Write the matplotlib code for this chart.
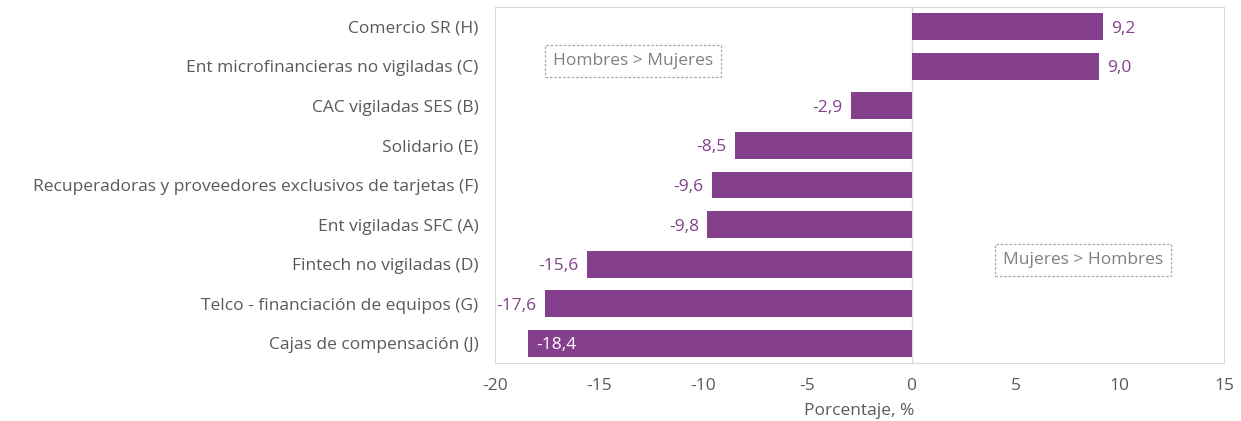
import matplotlib
matplotlib.use("Agg")
from matplotlib import pyplot as plt

# ----- datos ----- #
categorias = ['Comercio SR (H)',
              'Ent microfinancieras no vigiladas (C)',
              'CAC vigiladas SES (B)',
              'Solidario (E)',
              'Recuperadoras y proveedores exclusivos de tarjetas (F)',
              'Ent vigiladas SFC (A)',
              'Fintech no vigiladas (D)',
              'Telco - financiación de equipos (G)',
              'Cajas de compensación (J)']
valores = [9.2, 9.0, -2.9, -8.5, -9.6, -9.8, -15.6, -17.6, -18.4]
xticks = [-20, -15, -10, -5, 0, 5, 10, 15]

plt.rcParams['font.family'] = ['Open Sans', 'DejaVu Sans']
morado = '#843F8D'
gris = '#595959'
fs = 12.5

fig = plt.figure(figsize=(12.41, 4.21), dpi=100)
ax = fig.add_axes([0.3989, 0.1378, 0.5874, 0.8456])

pos = list(range(len(categorias)))[::-1]
ax.barh(pos, valores, height=0.68, color=morado, zorder=3)

# ----- etiquetas de valores ----- #
for p, v in zip(pos, valores):
    txt = f'{v:.1f}'.replace('.', ',')
    if v > 0:
        ax.text(v + 0.4, p, txt, va='center_baseline', ha='left', color=morado, fontsize=fs)
    elif v < -18:
        ax.text(v + 0.4, p, txt, va='center_baseline', ha='left', color='white', fontsize=fs)
    else:
        ax.text(v - 0.4, p, txt, va='center_baseline', ha='right', color=morado, fontsize=fs)

ax.axvline(0, color='#D9D9D9', linewidth=1, zorder=1)

ax.set_xlim(-20, 15)
ax.set_ylim(-0.5, len(categorias) - 0.5)
ax.set_xticks(xticks)
ax.set_xticklabels([str(t) for t in xticks])
ax.set_yticks(pos)
ax.set_yticklabels(categorias)
ax.tick_params(axis='both', length=0, colors=gris, labelsize=fs)
ax.tick_params(axis='x', pad=11)
ax.tick_params(axis='y', pad=12)
for s in ax.spines.values():
    s.set_color('#D9D9D9')
ax.set_xlabel('Porcentaje, %', color=gris, fontsize=fs, labelpad=6)

# ----- cajas de texto ----- #
caja = dict(boxstyle='square,pad=0.45', facecolor='white', edgecolor='#A6A6A6',
            linestyle=(0, (2, 1.5)), linewidth=0.9)
ax.text(0.189, 0.848, 'Hombres > Mujeres', transform=ax.transAxes, ha='center', va='center',
        color='#808080', fontsize=fs, bbox=caja)
ax.text(0.807, 0.289, 'Mujeres > Hombres', transform=ax.transAxes, ha='center', va='center',
        color='#808080', fontsize=fs, bbox=caja)

fig.savefig('out.png', dpi=100)
